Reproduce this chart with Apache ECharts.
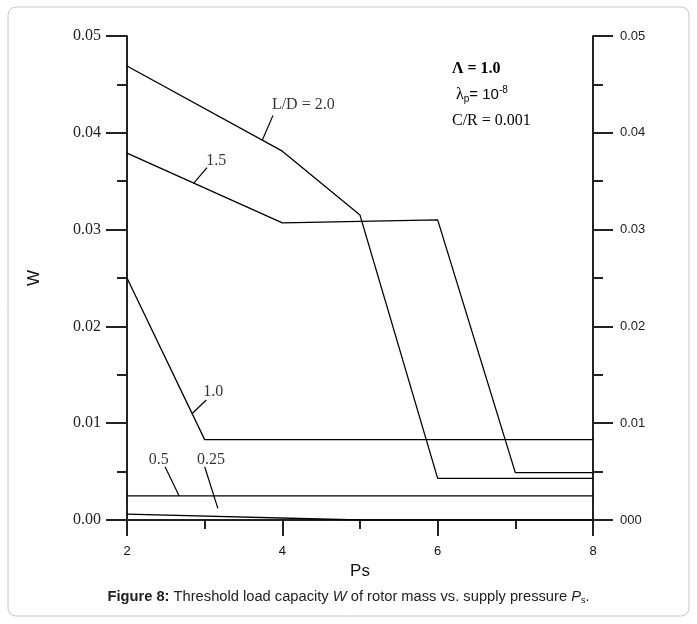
<!DOCTYPE html>
<html>
<head>
<meta charset="utf-8">
<script src="https://cdn.jsdelivr.net/npm/echarts@6/dist/echarts.min.js"></script>
<style>
  html, body { margin: 0; padding: 0; background: #fff; }
  .echarts_1 { width: 697px; height: 624px; }
</style>
</head>
<body>
<div class="echarts_1"></div>
<script>
// 曲线数据 (Ps, W)
var psLD20 = [2, 4, 5, 6, 8];
var wLD20 = [0.0469, 0.0381, 0.0315, 0.0043, 0.0043];
var psLD15 = [2, 4, 6, 7, 8];
var wLD15 = [0.0379, 0.0307, 0.0310, 0.0049, 0.0049];
var psLD10 = [2, 3, 8];
var wLD10 = [0.0250, 0.0083, 0.0083];
var psLD05 = [2, 8];
var wLD05 = [0.0025, 0.0025];
var psLD025 = [2, 5, 8];
var wLD025 = [0.0006, 0, 0];

// 曲线标注
var curveLabels = ['L/D = 2.0', '1.5', '1.0', '0.5', '0.25'];
var labelPs = [4.27, 3.15, 3.11, 2.41, 3.08];
var labelW = [0.0429, 0.0371, 0.0132, 0.0062, 0.0062];
// 引线 起点/终点
var leaderPs = [[3.74, 3.88], [2.86, 3.03], [2.84, 3.02], [2.49, 2.67], [3.00, 3.17]];
var leaderW = [[0.0392, 0.0418], [0.0348, 0.0364], [0.0110, 0.0124], [0.0055, 0.0025], [0.0055, 0.0012]];

// 坐标轴刻度
var xMin = 2, xMax = 8, xStep = 2;
var yMin = 0, yMax = 0.05, yStep = 0.01;

function pairs(xs, ys) {
    var out = [];
    for (var i = 0; i < xs.length; i++) out.push([xs[i], ys[i]]);
    return out;
}

var lineColor = '#000';
var axisColor = '#222';

var series = [];
[[psLD20, wLD20], [psLD15, wLD15], [psLD10, wLD10], [psLD05, wLD05], [psLD025, wLD025]].forEach(function (c) {
    series.push({
        type: 'line',
        data: pairs(c[0], c[1]),
        symbol: 'none',
        silent: true,
        lineStyle: { color: lineColor, width: 1.3 }
    });
});
// 引线
leaderPs.forEach(function (p, i) {
    series.push({
        type: 'line',
        data: pairs(p, leaderW[i]),
        symbol: 'none',
        silent: true,
        lineStyle: { color: lineColor, width: 1.2 }
    });
});
// 标注文字
series.push({
    type: 'scatter',
    symbolSize: 1,
    silent: true,
    itemStyle: { color: 'transparent' },
    data: curveLabels.map(function (t, i) { return { name: t, value: [labelPs[i], labelW[i]] }; }),
    label: {
        show: true,
        position: 'inside',
        formatter: function (p) { return p.name; },
        color: '#000',
        fontFamily: 'Liberation Serif',
        fontSize: 16
    }
});

var echarts_1 = echarts.init(document.querySelector('.echarts_1'));

var option = {
    animation: false,
    backgroundColor: '#fff',
    grid: { left: 127, right: 104, top: 36, bottom: 104, containLabel: false },
    xAxis: {
        type: 'value',
        min: xMin, max: xMax, interval: xStep,
        name: 'Ps',
        nameLocation: 'middle',
        nameGap: 42,
        nameTextStyle: { fontFamily: 'Liberation Sans', fontSize: 17, color: '#111' },
        axisLine: { onZero: false, lineStyle: { color: axisColor, width: 2 } },
        axisTick: { length: 16, lineStyle: { color: axisColor, width: 2 } },
        minorTick: { show: true, splitNumber: 2, length: 9, lineStyle: { color: axisColor, width: 2 } },
        splitLine: { show: false },
        axisLabel: { margin: 25, fontFamily: 'Liberation Sans', fontSize: 13, color: '#111' }
    },
    yAxis: [{
        type: 'value',
        min: yMin, max: yMax, interval: yStep,
        position: 'left',
        name: 'W',
        nameLocation: 'middle',
        nameGap: 84,
        nameRotate: 90,
        nameTextStyle: { fontFamily: 'Liberation Sans', fontSize: 17, color: '#111' },
        axisLine: { show: true, lineStyle: { color: axisColor, width: 2 } },
        axisTick: { length: 21, lineStyle: { color: axisColor, width: 2 } },
        minorTick: { show: true, splitNumber: 2, length: 10, lineStyle: { color: axisColor, width: 2 } },
        splitLine: { show: false },
        axisLabel: {
            margin: 26,
            fontFamily: 'Liberation Serif',
            fontSize: 16,
            color: '#222',
            formatter: function (v) { return v.toFixed(2); }
        }
    }, {
        type: 'value',
        min: yMin, max: yMax, interval: yStep,
        position: 'right',
        axisLine: { show: true, lineStyle: { color: axisColor, width: 2 } },
        axisTick: { length: 20, lineStyle: { color: axisColor, width: 2 } },
        minorTick: { show: true, splitNumber: 2, length: 10, lineStyle: { color: axisColor, width: 2 } },
        splitLine: { show: false },
        axisLabel: {
            margin: 27,
            fontFamily: 'Liberation Sans',
            fontSize: 13,
            color: '#222',
            formatter: function (v) { return v === 0 ? '000' : v.toFixed(2); }
        }
    }],
    series: series,
    graphic: [{
        // 外框
        type: 'rect',
        silent: true,
        shape: { x: 8, y: 7, width: 681, height: 609, r: 8 },
        style: { fill: 'none', stroke: '#c8c8c8', lineWidth: 1 }
    }, {
        // 参数说明
        type: 'text',
        left: 452,
        top: 56,
        silent: true,
        style: {
            text: '{bold|Λ = 1.0}\n{lam| λ}{sub|p}{sans|= 10}{sup|-8}\n{serif|C/R = 0.001}',
            lineHeight: 26,
            rich: {
                bold: { fontFamily: 'Liberation Serif', fontWeight: 'bold', fontSize: 16, lineHeight: 26, fill: '#000' },
                lam: { fontFamily: 'Liberation Serif', fontSize: 16, lineHeight: 26, fill: '#000' },
                sub: { fontFamily: 'Liberation Sans', fontSize: 10, lineHeight: 26, padding: [9, 0, 0, 0], fill: '#000' },
                sans: { fontFamily: 'Liberation Sans', fontSize: 15, lineHeight: 26, fill: '#000' },
                sup: { fontFamily: 'Liberation Sans', fontSize: 10, lineHeight: 26, padding: [0, 0, 9, 0], fill: '#000' },
                serif: { fontFamily: 'Liberation Serif', fontSize: 16, lineHeight: 26, fill: '#000' }
            }
        }
    }, {
        // 图注
        type: 'text',
        left: 'center',
        top: 589,
        silent: true,
        style: {
            text: '{b|Figure 8:} Threshold load capacity {i|W} of rotor mass vs. supply pressure {i|P}{sub|s}.',
            fontFamily: 'Liberation Sans',
            fontSize: 14.7,
            fill: '#222',
            rich: {
                b: { fontFamily: 'Liberation Sans', fontSize: 14.7, fontWeight: 'bold', fill: '#222' },
                i: { fontFamily: 'Liberation Sans', fontSize: 14.7, fontStyle: 'italic', fill: '#222' },
                sub: { fontFamily: 'Liberation Sans', fontSize: 9, padding: [8, 0, 0, 0], fill: '#222' }
            }
        }
    }]
};

echarts_1.setOption(option);
</script>
</body>
</html>
